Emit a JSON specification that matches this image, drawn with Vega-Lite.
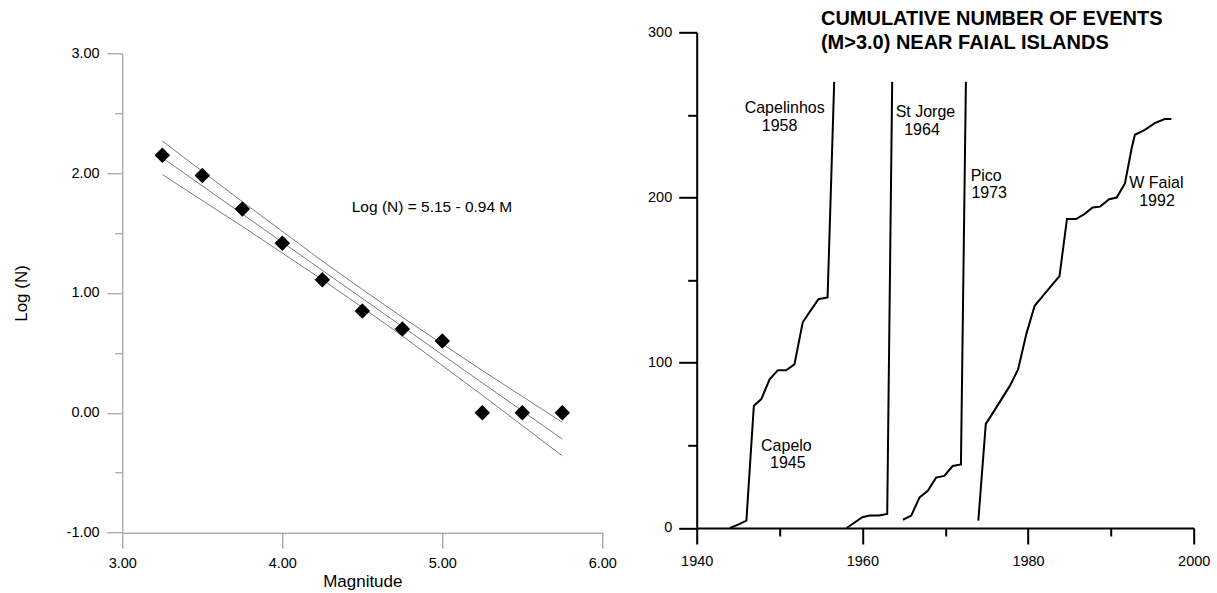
{
  "$schema": "https://vega.github.io/schema/vega-lite/v6.json",
  "padding": {"left": 12.3, "top": 8.3, "right": 0, "bottom": 0},
  "background": "white",
  "spacing": 29.4,
  "config": {
    "view": {"stroke": null},
    "font": "Liberation Sans",
    "axis": {
      "grid": false,
      "labelFont": "Liberation Sans",
      "titleFont": "Liberation Sans",
      "labelColor": "black",
      "titleColor": "black",
      "titleFontWeight": "normal",
      "labelFontSize": 14.5,
      "labelOverlap": false,
      "labelFlush": false,
      "labelBound": false
    }
  },
  "hconcat": [
    {
      "spacing": 0,
      "vconcat": [
        {
          "width": 480,
          "height": 12.5,
          "data": {"values": [{}]},
          "mark": {"type": "text", "text": ""},
          "encoding": {}
        },
        {
          "width": 480,
          "height": 479.4,
          "layer": [
            {
              "data": {
                "values": [
                  {"band": "upper", "M": 3.25, "v": 2.268},
                  {"band": "upper", "M": 3.75, "v": 1.762},
                  {"band": "upper", "M": 4.25, "v": 1.267},
                  {"band": "upper", "M": 4.5, "v": 1.03},
                  {"band": "upper", "M": 4.75, "v": 0.798},
                  {"band": "upper", "M": 5.25, "v": 0.353},
                  {"band": "upper", "M": 5.75, "v": -0.079},
                  {"band": "fit", "M": 3.25, "v": 2.128},
                  {"band": "fit", "M": 3.75, "v": 1.659},
                  {"band": "fit", "M": 4.25, "v": 1.189},
                  {"band": "fit", "M": 4.5, "v": 0.955},
                  {"band": "fit", "M": 4.75, "v": 0.72},
                  {"band": "fit", "M": 5.25, "v": 0.25},
                  {"band": "fit", "M": 5.75, "v": -0.219},
                  {"band": "lower", "M": 3.25, "v": 1.988},
                  {"band": "lower", "M": 3.75, "v": 1.556},
                  {"band": "lower", "M": 4.25, "v": 1.111},
                  {"band": "lower", "M": 4.5, "v": 0.88},
                  {"band": "lower", "M": 4.75, "v": 0.642},
                  {"band": "lower", "M": 5.25, "v": 0.147},
                  {"band": "lower", "M": 5.75, "v": -0.359}
                ]
              },
              "mark": {"type": "line", "color": "#7a7a7a", "strokeWidth": 1},
              "encoding": {
                "x": {
                  "field": "M", "type": "quantitative",
                  "scale": {"domain": [3, 6], "nice": false, "zero": false},
                  "axis": {
                    "values": [3, 4, 5, 6],
                    "format": ".2f",
                    "tickSize": 15.3,
                    "labelPadding": 9,
                    "domainColor": "#8c8c8c",
                    "tickColor": "#8c8c8c",
                    "title": "Magnitude",
                    "titleFontSize": 17,
                    "titlePadding": 3
                  }
                },
                "y": {
                  "field": "v", "type": "quantitative",
                  "scale": {"domain": [-1, 3], "nice": false, "zero": false},
                  "axis": {
                    "values": [-1, -0.5, 0, 0.5, 1, 1.5, 2, 2.5, 3],
                    "format": ".2f",
                    "labelExpr": "datum.value % 1 === 0 ? replace(datum.label, '\u2212', '-') : ''",
                    "tickSize": {"condition": {"test": "datum.value % 1 === 0", "value": 15.5}, "value": 7.7},
                    "labelPadding": 7.7,
                    "domainColor": "#8c8c8c",
                    "tickColor": "#8c8c8c",
                    "title": "Log (N)",
                    "titleFontSize": 17,
                    "titlePadding": 35.7
                  }
                },
                "detail": {"field": "band"}
              }
            },
            {
              "data": {
                "values": [
                  {"M": 3.25, "logN": 2.15},
                  {"M": 3.5, "logN": 1.98},
                  {"M": 3.75, "logN": 1.7},
                  {"M": 4.0, "logN": 1.415},
                  {"M": 4.25, "logN": 1.11},
                  {"M": 4.5, "logN": 0.85},
                  {"M": 4.75, "logN": 0.7},
                  {"M": 5.0, "logN": 0.6},
                  {"M": 5.25, "logN": 0.0},
                  {"M": 5.5, "logN": 0.0},
                  {"M": 5.75, "logN": 0.0}
                ]
              },
              "mark": {"type": "point", "shape": "diamond", "filled": true, "color": "black", "size": 240, "opacity": 1},
              "encoding": {
                "x": {"field": "M", "type": "quantitative"},
                "y": {"field": "logN", "type": "quantitative"}
              }
            },
            {
              "data": {"values": [{"M": 4.434, "v": 1.718, "label": "Log (N) = 5.15 - 0.94 M"}]},
              "mark": {"type": "text", "align": "left", "baseline": "middle", "fontSize": 15.5, "color": "black"},
              "encoding": {
                "x": {"field": "M", "type": "quantitative"},
                "y": {"field": "v", "type": "quantitative"},
                "text": {"field": "label"}
              }
            }
          ]
        }
      ]
    },
    {
      "width": 497,
      "height": 495.7,
      "layer": [
        {
          "data": {
            "values": [
              {"series": "Capelo-Capelinhos", "year": 1944.0, "count": 0},
              {"series": "Capelo-Capelinhos", "year": 1945.0, "count": 2},
              {"series": "Capelo-Capelinhos", "year": 1946.0, "count": 4.5},
              {"series": "Capelo-Capelinhos", "year": 1946.9, "count": 74},
              {"series": "Capelo-Capelinhos", "year": 1947.8, "count": 78},
              {"series": "Capelo-Capelinhos", "year": 1948.8, "count": 90},
              {"series": "Capelo-Capelinhos", "year": 1949.8, "count": 95.5},
              {"series": "Capelo-Capelinhos", "year": 1950.8, "count": 95.5},
              {"series": "Capelo-Capelinhos", "year": 1951.8, "count": 99},
              {"series": "Capelo-Capelinhos", "year": 1952.8, "count": 124.5},
              {"series": "Capelo-Capelinhos", "year": 1953.6, "count": 130.5},
              {"series": "Capelo-Capelinhos", "year": 1954.7, "count": 138.5},
              {"series": "Capelo-Capelinhos", "year": 1955.8, "count": 139.5},
              {"series": "Capelo-Capelinhos", "year": 1956.6, "count": 270},
              {"series": "St Jorge", "year": 1958.1, "count": 0},
              {"series": "St Jorge", "year": 1960.0, "count": 6.5},
              {"series": "St Jorge", "year": 1960.9, "count": 7.5},
              {"series": "St Jorge", "year": 1962.0, "count": 7.5},
              {"series": "St Jorge", "year": 1963.0, "count": 8.5},
              {"series": "St Jorge", "year": 1963.6, "count": 270},
              {"series": "Pico", "year": 1964.9, "count": 5},
              {"series": "Pico", "year": 1965.9, "count": 7.5},
              {"series": "Pico", "year": 1966.9, "count": 18.5},
              {"series": "Pico", "year": 1967.9, "count": 22.5},
              {"series": "Pico", "year": 1968.9, "count": 30.5},
              {"series": "Pico", "year": 1969.9, "count": 31.5},
              {"series": "Pico", "year": 1970.9, "count": 37.5},
              {"series": "Pico", "year": 1971.9, "count": 38.5},
              {"series": "Pico", "year": 1972.5, "count": 270},
              {"series": "W Faial", "year": 1974.0, "count": 4.5},
              {"series": "W Faial", "year": 1974.9, "count": 63},
              {"series": "W Faial", "year": 1975.8, "count": 70},
              {"series": "W Faial", "year": 1976.8, "count": 78},
              {"series": "W Faial", "year": 1977.8, "count": 86},
              {"series": "W Faial", "year": 1978.8, "count": 96},
              {"series": "W Faial", "year": 1979.8, "count": 117.5},
              {"series": "W Faial", "year": 1980.8, "count": 134.5},
              {"series": "W Faial", "year": 1981.8, "count": 140.5},
              {"series": "W Faial", "year": 1982.8, "count": 146.5},
              {"series": "W Faial", "year": 1983.8, "count": 152.5},
              {"series": "W Faial", "year": 1984.7, "count": 187},
              {"series": "W Faial", "year": 1985.8, "count": 187},
              {"series": "W Faial", "year": 1986.8, "count": 190},
              {"series": "W Faial", "year": 1987.8, "count": 194},
              {"series": "W Faial", "year": 1988.7, "count": 194.5},
              {"series": "W Faial", "year": 1989.8, "count": 199},
              {"series": "W Faial", "year": 1990.7, "count": 200},
              {"series": "W Faial", "year": 1991.7, "count": 208.5},
              {"series": "W Faial", "year": 1992.5, "count": 229.5},
              {"series": "W Faial", "year": 1992.9, "count": 238},
              {"series": "W Faial", "year": 1994.1, "count": 241},
              {"series": "W Faial", "year": 1995.3, "count": 245},
              {"series": "W Faial", "year": 1996.5, "count": 247.5},
              {"series": "W Faial", "year": 1997.3, "count": 247.5}
            ]
          },
          "mark": {"type": "line", "color": "black", "strokeWidth": 2},
          "encoding": {
            "x": {
              "field": "year", "type": "quantitative",
              "scale": {"domain": [1940, 2000], "nice": false, "zero": false},
              "axis": {
                "values": [1940, 1950, 1960, 1970, 1980, 1990, 2000],
                "format": "d",
                "labelExpr": "(datum.value - 1940) % 20 === 0 ? datum.label : ''",
                "tickSize": {"condition": {"test": "(datum.value - 1940) % 20 === 0", "value": 16}, "value": 8},
                "labelPadding": 10.4,
                "domainColor": "black",
                "domainWidth": 2,
                "tickColor": "black",
                "tickWidth": 2,
                "title": null
              }
            },
            "y": {
              "field": "count", "type": "quantitative",
              "scale": {"domain": [0, 300], "nice": false, "zero": false},
              "axis": {
                "values": [0, 50, 100, 150, 200, 250, 300],
                "labelExpr": "datum.value % 100 === 0 ? datum.label : ''",
                "tickSize": {"condition": {"test": "datum.value % 100 === 0", "value": 18}, "value": 9},
                "labelPadding": 7,
                "domainColor": "black",
                "domainWidth": 2,
                "tickColor": "black",
                "tickWidth": 2,
                "title": null
              }
            },
            "detail": {"field": "series"}
          }
        },
        {
          "data": {
            "values": [
              {"year": 1950.62, "count": 254.2, "text": "Capelinhos"},
              {"year": 1950.0, "count": 243.5, "text": "1958"},
              {"year": 1950.83, "count": 49.8, "text": "Capelo"},
              {"year": 1951.0, "count": 39.2, "text": "1945"},
              {"year": 1967.61, "count": 252.0, "text": "St Jorge"},
              {"year": 1967.2, "count": 241.1, "text": "1964"},
              {"year": 1974.95, "count": 213.2, "text": "Pico"},
              {"year": 1975.31, "count": 202.6, "text": "1973"},
              {"year": 1995.5, "count": 208.8, "text": "W Faial"},
              {"year": 1995.57, "count": 198.1, "text": "1992"}
            ]
          },
          "mark": {"type": "text", "align": "center", "baseline": "middle", "fontSize": 16, "color": "black"},
          "encoding": {
            "x": {"field": "year", "type": "quantitative"},
            "y": {"field": "count", "type": "quantitative"},
            "text": {"field": "text"}
          }
        },
        {
          "data": {
            "values": [
              {"year": 1955.0, "count": 308.1, "text": "CUMULATIVE NUMBER OF EVENTS"},
              {"year": 1955.0, "count": 293.8, "text": "(M>3.0) NEAR FAIAL ISLANDS"}
            ]
          },
          "mark": {"type": "text", "align": "left", "baseline": "middle", "fontSize": 20, "fontWeight": "bold", "color": "black"},
          "encoding": {
            "x": {"field": "year", "type": "quantitative"},
            "y": {"field": "count", "type": "quantitative"},
            "text": {"field": "text"}
          }
        }
      ]
    }
  ]
}
